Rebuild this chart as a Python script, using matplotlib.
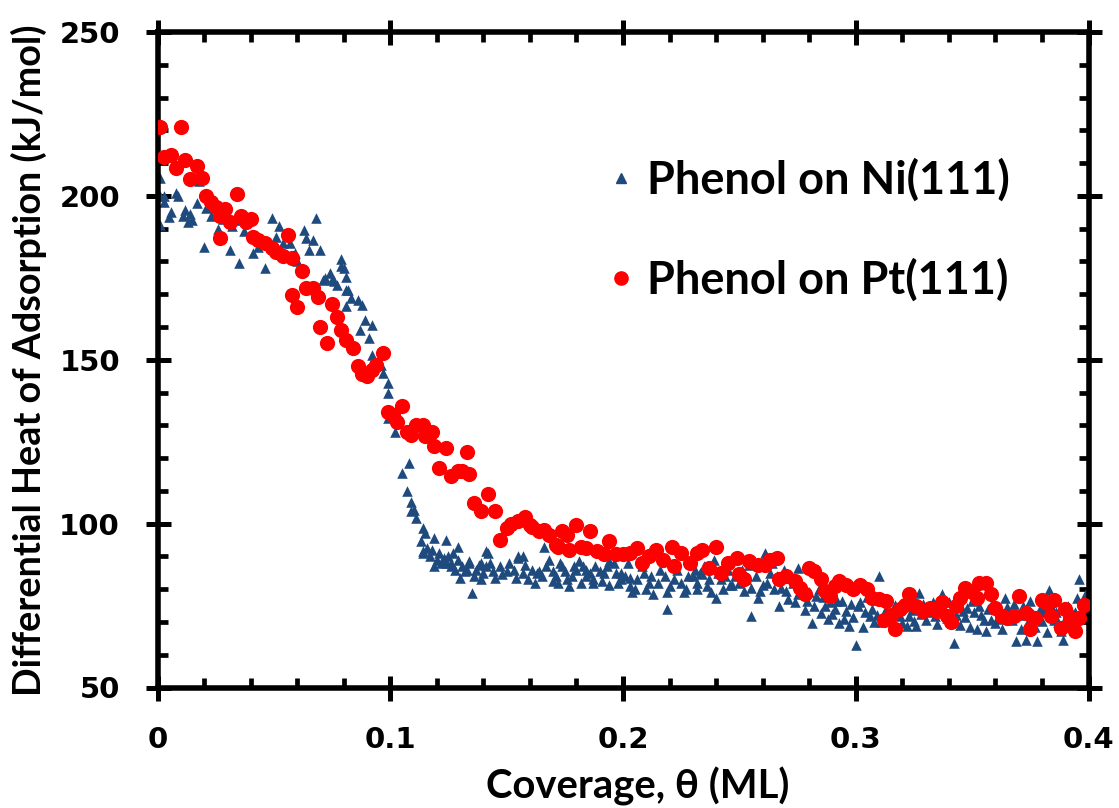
import numpy as np
import matplotlib
matplotlib.use("Agg")
import matplotlib.pyplot as plt
from matplotlib.lines import Line2D
from matplotlib.ticker import MultipleLocator, FormatStrFormatter

# Phenol on Ni(111): coverage (ML), differential heat (kJ/mol)
ni_x = [0.001, 0.001, 0.001, 0.003, 0.003, 0.005, 0.006, 0.008, 0.009, 0.011,
        0.012, 0.013, 0.014, 0.015, 0.017, 0.018, 0.020, 0.021, 0.022, 0.023,
        0.026, 0.028, 0.031, 0.032, 0.034, 0.035, 0.037, 0.038, 0.041, 0.043,
        0.046, 0.048, 0.049, 0.051, 0.052, 0.054, 0.057, 0.059, 0.060, 0.063,
        0.064, 0.065, 0.067, 0.068, 0.070, 0.071, 0.072, 0.074, 0.075, 0.076,
        0.077, 0.079, 0.079, 0.080, 0.081, 0.081, 0.081, 0.082, 0.083, 0.086,
        0.087, 0.088, 0.089, 0.091, 0.092, 0.092, 0.096, 0.097, 0.099, 0.099,
        0.099, 0.102, 0.103, 0.105, 0.107, 0.108, 0.109, 0.109, 0.110, 0.111,
        0.113, 0.114, 0.114, 0.114, 0.115, 0.116, 0.117, 0.118, 0.119, 0.119,
        0.120, 0.121, 0.122, 0.123, 0.124, 0.124, 0.125, 0.126, 0.126, 0.127,
        0.128, 0.129, 0.129, 0.130, 0.131, 0.132, 0.133, 0.134, 0.134, 0.135,
        0.136, 0.137, 0.138, 0.139, 0.139, 0.140, 0.141, 0.141, 0.142, 0.143,
        0.144, 0.145, 0.147, 0.148, 0.150, 0.151, 0.153, 0.154, 0.155, 0.155,
        0.157, 0.157, 0.158, 0.159, 0.161, 0.162, 0.163, 0.164, 0.165, 0.166,
        0.167, 0.168, 0.170, 0.170, 0.171, 0.172, 0.173, 0.174, 0.175, 0.176,
        0.177, 0.178, 0.179, 0.180, 0.181, 0.182, 0.183, 0.184, 0.184, 0.186,
        0.187, 0.187, 0.188, 0.190, 0.191, 0.192, 0.193, 0.194, 0.194, 0.196,
        0.197, 0.198, 0.199, 0.199, 0.201, 0.202, 0.203, 0.203, 0.204, 0.205,
        0.206, 0.208, 0.209, 0.210, 0.211, 0.212, 0.213, 0.215, 0.216, 0.218,
        0.219, 0.219, 0.220, 0.222, 0.223, 0.225, 0.226, 0.227, 0.228, 0.230,
        0.231, 0.232, 0.232, 0.233, 0.234, 0.235, 0.236, 0.237, 0.238, 0.239,
        0.240, 0.241, 0.242, 0.243, 0.244, 0.245, 0.246, 0.247, 0.248, 0.250,
        0.251, 0.252, 0.253, 0.254, 0.255, 0.255, 0.257, 0.258, 0.259, 0.260,
        0.261, 0.262, 0.263, 0.264, 0.265, 0.266, 0.267, 0.268, 0.269, 0.270,
        0.271, 0.272, 0.273, 0.274, 0.275, 0.275, 0.277, 0.278, 0.279, 0.280,
        0.281, 0.282, 0.283, 0.284, 0.285, 0.286, 0.287, 0.288, 0.289, 0.290,
        0.291, 0.292, 0.293, 0.294, 0.295, 0.296, 0.297, 0.298, 0.299, 0.300,
        0.301, 0.302, 0.303, 0.304, 0.305, 0.306, 0.307, 0.308, 0.309, 0.310,
        0.311, 0.312, 0.313, 0.314, 0.316, 0.317, 0.318, 0.319, 0.320, 0.321,
        0.322, 0.323, 0.324, 0.325, 0.326, 0.327, 0.328, 0.329, 0.330, 0.331,
        0.333, 0.334, 0.335, 0.336, 0.337, 0.338, 0.339, 0.340, 0.341, 0.342,
        0.343, 0.344, 0.345, 0.346, 0.347, 0.348, 0.349, 0.350, 0.351, 0.352,
        0.353, 0.354, 0.355, 0.356, 0.357, 0.358, 0.359, 0.360, 0.361, 0.362,
        0.363, 0.364, 0.365, 0.366, 0.367, 0.368, 0.369, 0.370, 0.371, 0.372,
        0.373, 0.374, 0.375, 0.376, 0.377, 0.378, 0.379, 0.380, 0.381, 0.382,
        0.383, 0.384, 0.385, 0.386, 0.387, 0.388, 0.389, 0.390, 0.391, 0.392,
        0.393, 0.394, 0.395, 0.396, 0.397, 0.398, 0.399]
ni_y = [205.4, 200.0, 191.0, 200.0, 198.0, 193.7, 195.0, 201.0, 200.0, 194.0,
        195.7, 192.0, 194.5, 192.7, 197.7, 204.5, 184.5, 196.4, 199.0, 194.0,
        190.0, 193.0, 183.5, 190.7, 192.7, 179.5, 189.3, 192.7, 182.6, 184.5,
        178.0, 185.0, 193.2, 187.6, 190.7, 185.6, 185.6, 182.6, 180.0, 189.6,
        187.0, 183.5, 186.6, 193.2, 183.5, 174.4, 174.9, 176.4, 174.4, 173.9,
        172.9, 180.7, 178.5, 177.9, 171.4, 175.4, 166.3, 171.4, 168.8, 168.3,
        159.2, 166.8, 162.2, 156.7, 160.7, 151.5, 148.5, 146.0, 143.0, 139.8,
        132.3, 128.0, 132.7, 115.5, 110.0, 118.5, 106.7, 104.0, 104.3, 101.7,
        94.6, 98.7, 91.6, 91.0, 97.0, 92.5, 90.0, 92.0, 95.6, 87.0,
        89.0, 91.0, 88.0, 89.5, 95.1, 88.0, 90.0, 88.0, 87.0, 91.0,
        86.0, 93.0, 89.0, 83.5, 87.0, 85.5, 86.0, 88.6, 88.0, 78.9,
        84.0, 86.0, 87.5, 88.0, 83.0, 85.0, 91.6, 87.0, 91.0, 88.0,
        85.6, 83.5, 87.0, 84.5, 85.6, 88.0, 86.0, 83.5, 89.6, 90.0,
        85.0, 90.0, 87.5, 83.0, 86.0, 82.0, 85.0, 85.6, 84.0, 93.0,
        87.0, 89.0, 85.6, 82.5, 84.0, 82.0, 88.0, 87.0, 85.5, 83.0,
        81.0, 84.0, 87.0, 86.0, 88.6, 82.0, 87.0, 86.0, 84.0, 85.0,
        83.0, 82.0, 87.0, 85.6, 82.5, 85.0, 87.0, 81.4, 88.5, 88.0,
        85.0, 82.0, 83.0, 85.0, 84.0, 88.0, 81.0, 83.5, 79.0, 80.0,
        83.0, 87.0, 85.0, 80.0, 82.0, 84.0, 78.4, 82.0, 86.0, 84.0,
        79.0, 73.8, 81.0, 83.0, 86.0, 82.0, 79.0, 80.0, 84.0, 84.0,
        86.0, 80.0, 82.0, 85.0, 84.5, 87.0, 81.0, 83.0, 79.0, 89.0,
        77.4, 85.0, 83.0, 80.0, 84.0, 86.0, 81.4, 81.4, 84.0, 82.0,
        86.0, 79.4, 83.0, 87.5, 71.7, 80.4, 84.0, 77.4, 79.5, 81.4,
        91.0, 82.0, 85.0, 88.0, 80.0, 84.0, 74.8, 80.5, 86.0, 79.4,
        77.0, 84.0, 82.0, 76.0, 86.5, 78.4, 80.5, 73.5, 76.4, 79.0,
        69.7, 75.0, 78.0, 80.0, 72.8, 77.5, 74.8, 71.0, 76.0, 72.3,
        74.0, 76.4, 69.7, 76.5, 71.0, 73.3, 68.7, 75.5, 71.5, 63.1,
        74.8, 76.0, 68.4, 73.0, 77.5, 71.7, 74.0, 70.1, 72.0, 84.0,
        70.0, 76.5, 73.8, 71.0, 72.5, 75.3, 74.0, 71.7, 69.7, 76.5,
        68.7, 71.7, 73.5, 70.3, 68.7, 78.9, 72.5, 75.5, 70.7, 73.0,
        76.0, 71.7, 69.5, 74.0, 78.4, 73.5, 71.2, 76.0, 70.0, 63.6,
        72.0, 76.5, 69.0, 73.3, 71.5, 74.3, 68.5, 76.4, 73.0, 67.7,
        75.0, 72.0, 70.7, 67.2, 74.0, 70.5, 76.0, 69.7, 71.0, 73.3,
        68.0, 77.4, 74.5, 72.0, 70.7, 75.5, 64.2, 72.0, 67.7, 75.0,
        64.6, 70.0, 76.4, 72.5, 68.5, 64.2, 74.0, 70.3, 73.0, 67.0,
        79.9, 75.0, 70.7, 73.0, 70.0, 67.2, 64.6, 71.0, 75.0, 69.0,
        72.8, 73.0, 77.4, 83.0, 76.0, 72.8, 78.9]

# Phenol on Pt(111)
pt_x = [0.001, 0.003, 0.006, 0.008, 0.010, 0.012, 0.014, 0.017, 0.019, 0.021,
        0.023, 0.025, 0.027, 0.027, 0.029, 0.031, 0.034, 0.036, 0.038, 0.040,
        0.041, 0.043, 0.046, 0.049, 0.051, 0.054, 0.056, 0.058, 0.058, 0.060,
        0.062, 0.064, 0.067, 0.069, 0.070, 0.073, 0.075, 0.077, 0.079, 0.081,
        0.084, 0.086, 0.088, 0.090, 0.092, 0.094, 0.097, 0.099, 0.101, 0.103,
        0.105, 0.107, 0.109, 0.111, 0.114, 0.115, 0.118, 0.119, 0.121, 0.124,
        0.126, 0.129, 0.131, 0.133, 0.134, 0.136, 0.139, 0.142, 0.145, 0.147,
        0.150, 0.152, 0.155, 0.158, 0.160, 0.161, 0.164, 0.166, 0.168, 0.171,
        0.172, 0.174, 0.176, 0.177, 0.180, 0.182, 0.184, 0.186, 0.189, 0.192,
        0.194, 0.197, 0.200, 0.203, 0.206, 0.208, 0.211, 0.214, 0.217, 0.221,
        0.222, 0.225, 0.229, 0.232, 0.234, 0.237, 0.240, 0.242, 0.245, 0.249,
        0.250, 0.252, 0.254, 0.258, 0.261, 0.263, 0.266, 0.267, 0.270, 0.274,
        0.276, 0.278, 0.280, 0.282, 0.285, 0.287, 0.289, 0.291, 0.293, 0.296,
        0.299, 0.302, 0.305, 0.307, 0.310, 0.312, 0.313, 0.315, 0.317, 0.319,
        0.321, 0.323, 0.326, 0.329, 0.332, 0.335, 0.337, 0.339, 0.341, 0.343,
        0.345, 0.347, 0.350, 0.352, 0.353, 0.356, 0.358, 0.360, 0.363, 0.365,
        0.368, 0.370, 0.373, 0.375, 0.377, 0.380, 0.382, 0.384, 0.385, 0.388,
        0.390, 0.392, 0.394, 0.396, 0.398]
pt_y = [221.0, 212.0, 212.5, 208.5, 221.0, 211.0, 205.0, 209.0, 205.5, 200.0,
        198.0, 196.5, 194.0, 187.0, 196.0, 192.0, 200.5, 194.0, 192.0, 193.0,
        187.5, 186.5, 185.7, 184.0, 183.0, 181.7, 188.0, 181.0, 169.8, 166.0,
        177.0, 172.0, 172.0, 169.0, 160.0, 155.0, 167.0, 163.0, 159.0, 156.0,
        153.7, 148.0, 145.7, 145.0, 147.0, 148.5, 152.0, 134.0, 133.0, 131.0,
        136.0, 128.0, 127.0, 130.0, 130.0, 126.6, 128.0, 123.6, 117.0, 123.0,
        114.6, 116.0, 116.0, 122.0, 115.0, 106.4, 104.0, 109.0, 104.0, 95.0,
        98.8, 100.0, 100.7, 102.0, 99.7, 99.0, 97.7, 98.0, 96.6, 93.6,
        93.0, 97.7, 96.6, 92.0, 99.7, 93.0, 92.7, 97.6, 91.6, 90.6,
        94.6, 90.6, 90.6, 91.0, 92.7, 88.0, 90.0, 92.0, 89.0, 93.0,
        87.0, 91.0, 88.0, 91.0, 92.0, 86.6, 93.0, 85.0, 88.0, 89.6,
        84.5, 83.0, 88.5, 87.5, 87.5, 89.0, 89.6, 83.0, 84.0, 82.4,
        80.5, 78.4, 86.6, 85.5, 83.0, 79.4, 78.0, 81.0, 82.4, 81.4,
        80.0, 81.4, 80.0, 77.4, 77.0, 70.7, 76.3, 72.0, 67.7, 73.8,
        75.3, 78.4, 74.8, 73.3, 74.4, 73.3, 76.0, 71.7, 70.1, 74.8,
        77.4, 80.5, 79.0, 77.4, 82.0, 82.0, 78.4, 74.4, 71.7, 71.3,
        71.7, 77.8, 72.8, 67.7, 71.3, 76.8, 75.9, 71.7, 76.8, 68.3,
        73.8, 71.3, 67.2, 71.3, 75.3]

ni_label = "Phenol on Ni(111)"
pt_label = "Phenol on Pt(111)"
ni_color = "#1F4A7E"
pt_color = "#FF0000"

plt.rcParams["font.family"] = ["Lato", "DejaVu Sans"]

W, H = 1119, 808
fig = plt.figure(figsize=(W / 100, H / 100), dpi=100)
ax = fig.add_axes([157.5 / W, 1 - 687.5 / H, 931 / W, 655.5 / H])

ax.scatter(ni_x, ni_y, marker="^", s=58, color=ni_color, linewidths=0, zorder=2)
ax.scatter(pt_x, pt_y, marker="o", s=120, color=pt_color, linewidths=0, zorder=3)

ax.set_xlim(0, 0.4)
ax.set_ylim(50, 250)

ax.xaxis.set_major_locator(MultipleLocator(0.1))
ax.xaxis.set_minor_locator(MultipleLocator(0.02))
ax.yaxis.set_major_locator(MultipleLocator(50))
ax.yaxis.set_minor_locator(MultipleLocator(10))
ax.xaxis.set_major_formatter(FormatStrFormatter("%g"))

for sp in ax.spines.values():
    sp.set_linewidth(4)

ax.tick_params(which="major", direction="inout", length=18, width=3.6,
               top=True, right=True, labelsize=21)
ax.tick_params(which="minor", direction="in", length=7, width=3.4,
               top=True, right=True)
ax.tick_params(axis="x", which="major", pad=19)
ax.tick_params(axis="y", which="major", pad=18)
for lab in ax.get_xticklabels() + ax.get_yticklabels():
    lab.set_fontfamily("DejaVu Sans")
    lab.set_fontweight("bold")

xl = ax.set_xlabel("Coverage, θ (ML)", fontsize=25, fontweight="bold")
yl = ax.set_ylabel("Differential Heat of Adsorption (kJ/mol)", fontsize=26,
                   fontweight="bold")
xl.set_va("baseline")
yl.set_va("baseline")
ax.xaxis.set_label_coords(0.516, (687.5 - 798) / 655.5)
ax.yaxis.set_label_coords((41 - 157.5) / 931, 0.5)

# scale label fonts to the widths seen in the original
fig.canvas.draw()
rend = fig.canvas.get_renderer()


def fit(txt, target_px):
    bb = txt.get_window_extent(rend)
    size = bb.height if txt.get_rotation() == 90 else bb.width
    txt.set_fontsize(txt.get_fontsize() * target_px / size)


fit(xl, 303)
fit(yl, 673)

handles = [
    Line2D([], [], marker="^", linestyle="none", markersize=7.4, color=ni_color),
    Line2D([], [], marker="o", linestyle="none", markersize=9.5, color=pt_color),
]


def make_legend(size, spacing, anchor):
    fpx = size * 100 / 72
    hl = 0.5
    tp = (26.3 - hl * fpx / 2) / fpx
    return ax.legend(handles, [ni_label, pt_label], loc="upper left",
                     bbox_to_anchor=anchor, frameon=False,
                     prop={"size": size, "weight": "bold"}, borderpad=0,
                     borderaxespad=0, handlelength=hl, handletextpad=tp,
                     labelspacing=spacing)


size, spacing, anchor = 31.7, 1.0, (0.49, 0.82)
leg = make_legend(size, spacing, anchor)
fig.canvas.draw()
size *= 362 / leg.get_texts()[0].get_window_extent(rend).width
leg.remove()
leg = make_legend(size, spacing, anchor)
fig.canvas.draw()
b1 = leg.get_texts()[0].get_window_extent(rend)
b2 = leg.get_texts()[1].get_window_extent(rend)
fpx = size * 100 / 72
spacing += (100 - (b1.y0 - b2.y0)) / fpx
ax_disp = ax.transAxes.transform(anchor)
ax_disp = ax_disp + np.array([647 - b1.x0, (H - 180) - (b1.y0 + b1.y1) / 2])
anchor = tuple(ax.transAxes.inverted().transform(ax_disp))
leg.remove()
leg = make_legend(size, spacing, anchor)

fig.savefig("out.png", dpi=100)
